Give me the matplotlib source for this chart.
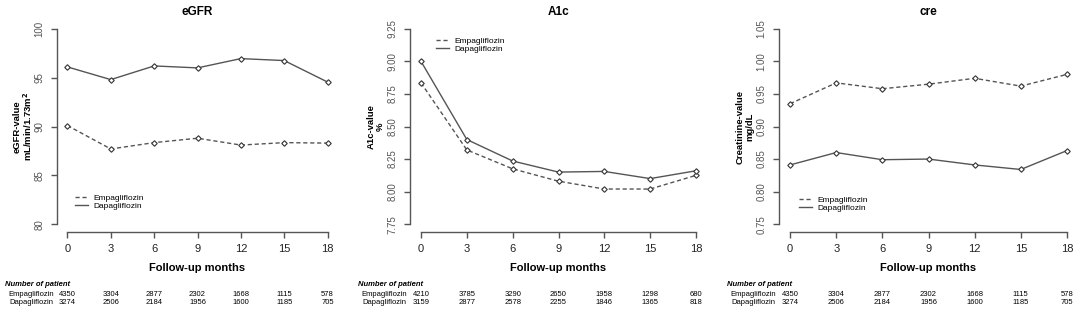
import matplotlib
matplotlib.use("Agg")
import matplotlib.pyplot as plt
import matplotlib.transforms as mtransforms
from matplotlib.lines import Line2D

plt.rcParams['font.family'] = ['Liberation Sans', 'DejaVu Sans']

months = [0, 3, 6, 9, 12, 15, 18]

egfr_empa = [90.1, 87.7, 88.35, 88.8, 88.1, 88.35, 88.3]
egfr_dapa = [96.1, 94.8, 96.2, 96.0, 96.95, 96.75, 94.55]
a1c_empa = [8.835, 8.32, 8.175, 8.08, 8.02, 8.02, 8.125]
a1c_dapa = [9.00, 8.40, 8.235, 8.15, 8.155, 8.10, 8.16]
cre_empa = [0.935, 0.967, 0.958, 0.965, 0.974, 0.962, 0.980]
cre_dapa = [0.841, 0.860, 0.849, 0.850, 0.841, 0.834, 0.863]

n_empa_egfr = [4350, 3304, 2877, 2302, 1668, 1115, 578]
n_dapa_egfr = [3274, 2506, 2184, 1956, 1600, 1185, 705]
n_empa_a1c = [4210, 3785, 3290, 2650, 1958, 1298, 680]
n_dapa_a1c = [3159, 2877, 2578, 2255, 1846, 1365, 818]

titles = ["eGFR", "A1c", "cre"]
ylabels = ["eGFR-value\nmL/min/1.73m$\\mathbf{^2}$", "A1c-value\n%", "Creatinine-value\nmg/dL"]
yticks_list = [[80, 85, 90, 95, 100],
               [7.75, 8.00, 8.25, 8.50, 8.75, 9.00, 9.25],
               [0.75, 0.80, 0.85, 0.90, 0.95, 1.00, 1.05]]
yfmt = ["{:.0f}", "{:.2f}", "{:.2f}"]
empa_list = [egfr_empa, a1c_empa, cre_empa]
dapa_list = [egfr_dapa, a1c_dapa, cre_dapa]
n_empa_list = [n_empa_egfr, n_empa_a1c, n_empa_egfr]
n_dapa_list = [n_dapa_egfr, n_dapa_a1c, n_dapa_egfr]

W, H = 1084, 310
fig = plt.figure(figsize=(W / 100, H / 100), dpi=100)

# axes geometry in pixels: left, width
ax_px = [(57, 281), (410, 297), (779, 299)]
top_px, bot_px = 21, 232
# legend anchors (pixels): x offset from axes left, y of top
leg_px = [(18, 194), (26, 37), (20, 196)]

gray = '#555555'
for i in range(3):
    left, width = ax_px[i]
    ax = fig.add_axes([left / W, 1 - bot_px / H, width / W, (bot_px - top_px) / H])
    ax.plot(months, empa_list[i], ls=(0, (3, 2)), lw=1, c=gray, marker='D', ms=2.8,
            mfc='white', mec='#333333', mew=0.8)
    ax.plot(months, dapa_list[i], ls='-', lw=1, c=gray, marker='D', ms=2.8,
            mfc='white', mec='#333333', mew=0.8)

    yt = yticks_list[i]
    rng = yt[-1] - yt[0]
    ax.set_xlim(-0.04 * 18, 18 + 0.04 * 18)
    ax.set_ylim(yt[0] - 0.04 * rng, yt[-1] + 0.04 * rng)
    ax.set_xticks(months)
    ax.set_yticks(yt)
    ax.set_yticklabels([yfmt[i].format(v) for v in yt], rotation=90, va='center')
    for s in ['top', 'right']:
        ax.spines[s].set_visible(False)
    ax.spines['left'].set_bounds(yt[0], yt[-1])
    ax.spines['bottom'].set_bounds(0, 18)
    for s in ['left', 'bottom']:
        ax.spines[s].set_color(gray)
        ax.spines[s].set_linewidth(1)
    ax.tick_params(axis='y', length=4, width=1, color=gray, labelsize=7, labelcolor='#555555', pad=5)
    ax.tick_params(axis='x', length=4, width=1, color=gray, labelsize=8, labelcolor='#222222', pad=5)

    tr = mtransforms.blended_transform_factory(ax.transAxes, fig.transFigure)
    ax.text(0.5, 1 - 12 / H, titles[i], transform=tr, ha='center', va='center',
            fontsize=8.5, fontweight='bold')
    ax.text(0.5, 1 - 268 / H, "Follow-up months", transform=tr, ha='center', va='center',
            fontsize=8, fontweight='bold')
    fig.text((left - 34) / W, 1 - ((top_px + bot_px) / 2) / H, ylabels[i], rotation=90,
             ha='center', va='center', fontsize=6.8, fontweight='bold', linespacing=1.0,
             multialignment='center')

    # number at risk table
    fig.text((left - 52) / W, 1 - 284 / H, "Number of patient", ha='left', va='center',
             fontsize=5.5, fontweight='bold', fontstyle='italic')
    fig.text((left - 26) / W, 1 - 295 / H, "Empagliflozin", ha='center', va='center', fontsize=5.5)
    fig.text((left - 26) / W, 1 - 302 / H, "Dapagliflozin", ha='center', va='center', fontsize=5.5)
    trd = mtransforms.blended_transform_factory(ax.transData, fig.transFigure)
    for m, ne, nd in zip(months, n_empa_list[i], n_dapa_list[i]):
        ax.text(m, 1 - 295 / H, str(ne), transform=trd, ha='center', va='center',
                fontsize=5.5, clip_on=False)
        ax.text(m, 1 - 302 / H, str(nd), transform=trd, ha='center', va='center',
                fontsize=5.5, clip_on=False)

    handles = [Line2D([], [], ls=(0, (3, 2)), lw=1, c=gray),
               Line2D([], [], ls='-', lw=1, c=gray)]
    lx, ly = leg_px[i]
    ax.legend(handles, ["Empagliflozin", "Dapagliflozin"], loc='upper left',
              bbox_to_anchor=((left + lx) / W, 1 - ly / H), bbox_transform=fig.transFigure,
              frameon=False, fontsize=6, handlelength=1.6, handletextpad=0.6,
              labelspacing=0.05, borderpad=0, borderaxespad=0)

fig.savefig("out.png", dpi=100)
